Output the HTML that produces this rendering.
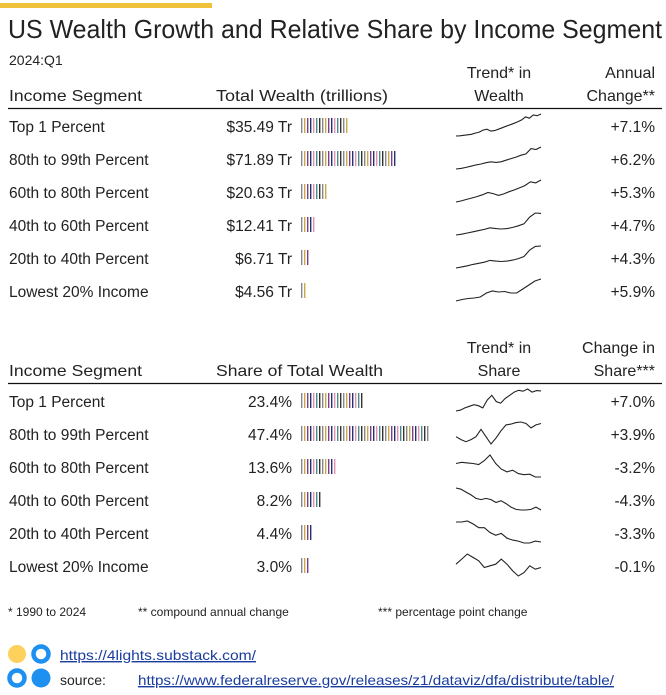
<!DOCTYPE html>
<html><head><meta charset="utf-8">
<style>
html,body{margin:0;padding:0;background:#fff;}
svg{display:block;font-family:"Liberation Sans",sans-serif;}
text{fill:#222;}
a text{fill:#1a3c9e;text-decoration:underline;}
</style></head>
<body>
<svg id="chart" width="666" height="695" viewBox="0 0 666 695">
<rect x="0" y="3" width="212" height="5" fill="#f0c23b"/>
<text x="8" y="38" font-size="26" textLength="654" lengthAdjust="spacingAndGlyphs">US Wealth Growth and Relative Share by Income Segment</text>
<text x="9" y="65" font-size="14">2024:Q1</text>

<g>
<text x="9" y="101" font-size="16" textLength="133" lengthAdjust="spacingAndGlyphs">Income Segment</text>
<text x="216" y="101" font-size="16" textLength="172" lengthAdjust="spacingAndGlyphs">Total Wealth (trillions)</text>
<text x="499" y="78" font-size="16" text-anchor="middle">Trend* in</text>
<text x="499" y="101" font-size="16" text-anchor="middle">Wealth</text>
<text x="655" y="78" font-size="16" text-anchor="end">Annual</text>
<text x="655" y="101" font-size="16" text-anchor="end">Change**</text>
<line x1="8" y1="108.5" x2="662" y2="108.5" stroke="#111" stroke-width="1.3"/>
</g>
<g id="t1"></g>

<g>
<text x="9" y="376" font-size="16" textLength="133" lengthAdjust="spacingAndGlyphs">Income Segment</text>
<text x="216" y="376" font-size="16" textLength="167" lengthAdjust="spacingAndGlyphs">Share of Total Wealth</text>
<text x="499" y="353" font-size="16" text-anchor="middle">Trend* in</text>
<text x="499" y="376" font-size="16" text-anchor="middle">Share</text>
<text x="655" y="353" font-size="16" text-anchor="end">Change in</text>
<text x="655" y="376" font-size="16" text-anchor="end">Share***</text>
<line x1="8" y1="383.5" x2="662" y2="383.5" stroke="#111" stroke-width="1.3"/>
</g>
<g id="t2"></g>

<g>
<text x="8" y="616" font-size="12">* 1990 to 2024</text>
<text x="138" y="616" font-size="12">** compound annual change</text>
<text x="378" y="616" font-size="12">*** percentage point change</text>
</g>
<g>
<circle cx="17" cy="654" r="9" fill="#fdd15c"/>
<circle cx="41" cy="654" r="7.5" fill="none" stroke="#1e90f0" stroke-width="4.5"/>
<circle cx="17" cy="678" r="7.5" fill="none" stroke="#1e90f0" stroke-width="4.5"/>
<circle cx="41" cy="678" r="9.5" fill="#1e90f0"/>
</g>
<a><text x="60" y="660" font-size="14" textLength="196" lengthAdjust="spacingAndGlyphs">https://4lights.substack.com/</text></a>
<text x="60" y="685" font-size="14">source:</text>
<a><text x="138" y="685" font-size="14" textLength="476" lengthAdjust="spacingAndGlyphs">https://www.federalreserve.gov/releases/z1/dataviz/dfa/distribute/table/</text></a>
</svg>
<script>
const segments = ["Top 1 Percent","80th to 99th Percent","60th to 80th Percent","40th to 60th Percent","20th to 40th Percent","Lowest 20% Income"];
const wealthValues = [35.49,71.89,20.63,12.41,6.71,4.56];
const annualChange = ["+7.1%","+6.2%","+5.3%","+4.7%","+4.3%","+5.9%"];
const shareValues = [23.4,47.4,13.6,8.2,4.4,3.0];
const shareChange = ["+7.0%","+3.9%","-3.2%","-4.3%","-3.3%","-0.1%"];
const wealthTrend0 = [1,1.1,1.3,1.5,1.7,2.2,2.6,3.4,3.8,3.0,3.2,3.8,4.4,5.0,5.6,6.2,6.8,7.6,8.8,8.3,9.6,9.3,10];
const wealthTrend1 = [1,1.2,1.5,1.9,2.3,2.6,3.0,3.3,3.1,3.3,3.8,4.3,4.8,5.4,5.8,7.5,7.2,8.0];
const wealthTrend2 = [1,1.3,1.7,2.1,2.5,3.0,3.6,3.3,2.8,3.2,3.8,4.3,4.9,5.5,6.5,6.2,7.0];
const wealthTrend3 = [1,1.2,1.5,1.8,2.1,2.4,2.8,2.6,2.5,2.6,2.9,3.3,3.8,5.5,6.5,6.4];
const wealthTrend4 = [1,1.3,1.6,2.0,2.3,2.6,3.1,2.9,2.8,2.9,3.2,3.6,4.2,6.0,7.0,7.1];
const wealthTrend5 = [1,1.3,1.5,1.6,1.8,2.6,3.0,2.8,2.9,2.6,2.6,3.4,4.2,5.0,5.4];
const shareTrend0 = [17,17.3,18,18.5,19,18.7,18,20.5,22,20,19.5,21,22,23,23.6,23.3,24,23,23.5,23.4];
const shareTrend1 = [46,45,44.3,45,46,48.5,46,43.5,45.5,48,50,50.3,50.8,51,50.5,49,50,50.5];
const shareTrend2 = [16,16.2,16.1,16,15.8,16.5,17.5,16,15,14.5,14.8,14.2,14,14.1,13.6,13.6];
const shareTrend3 = [12.5,12.3,11.8,11.3,10.7,10.5,10.7,10.5,10,10.3,9.8,9.2,8.8,8.7,8.7,8.8,9.2,8.7];
const shareTrend4 = [6.5,6.5,6.6,6.3,5.9,5.9,5.4,5.1,5.3,4.8,4.6,4.5,4.3,4.3,4.5,4.4];
const shareTrend5 = [3.3,3.6,3.9,3.7,3.5,3.1,3.2,3.3,3.6,3.3,2.9,2.6,2.8,3.2,3.0,3.1];
const wealthTrends=[wealthTrend0,wealthTrend1,wealthTrend2,wealthTrend3,wealthTrend4,wealthTrend5];
const shareTrends=[shareTrend0,shareTrend1,shareTrend2,shareTrend3,shareTrend4,shareTrend5];

const NS="http://www.w3.org/2000/svg";
const tickColors=["#888","#c9a84a","#7a3f8f","#22336b","#e58fb0","#4a8a8a","#333"];
function mk(tag,attrs,parent){const e=document.createElementNS(NS,tag);for(const k in attrs)e.setAttribute(k,attrs[k]);parent.appendChild(e);return e;}
function xBar(v,pxPerUnit){return v*pxPerUnit;}
function spark(vals,cy,parent,name){
  const mn=Math.min(...vals),mx=Math.max(...vals);
  const x0=456,x1=541,yTop=cy-12,yBot=cy+10;
  const xs=i=>x0+(x1-x0)*i/(vals.length-1);
  const ys=v=>yBot-(v-mn)/(mx-mn||1)*(yBot-yTop);
  const d=vals.map((v,i)=>(i?"L":"M")+xs(i).toFixed(1)+","+ys(v).toFixed(1)).join("");
  const p=mk("path",{d:d,fill:"none",stroke:"#222","stroke-width":"1.1"},parent);
  
  
}
function bar(v,ppu,cy,parent,name){
  const g=mk("g",{},parent);
  
  
  const w=xBar(v,ppu);const n=Math.max(1,Math.round(w/3));
  for(let i=0;i<n;i++){
    mk("rect",{x:301+i*3,y:cy-8,width:1.4,height:15,fill:tickColors[i%tickColors.length]},g);
  }
}
function table(id,vals,labels,changes,trends,ppu,y0,kind){
  const host=document.getElementById(id);
  segments.forEach((s,i)=>{
    const cy=y0+i*33;
    const row=mk("g",{},host);
    
    
    const t1=mk("text",{x:9,y:cy+6,"font-size":15.5},row);t1.textContent=s;
    
    
    const t2=mk("text",{x:292,y:cy+6,"font-size":15.5,"text-anchor":"end"},row);t2.textContent=labels[i];
    
    
    bar(vals[i],ppu,cy,row,kind+'-bar');
    spark(trends[i],cy,row,kind+'-sparkline');
    const t3=mk("text",{x:655,y:cy+6,"font-size":15.5,"text-anchor":"end"},row);t3.textContent=changes[i];
    
    
  });
}
table("t1",wealthValues,wealthValues.map(v=>"$"+v.toFixed(2)+" Tr"),annualChange,wealthTrends,1.32,126,"wealth");
table("t2",shareValues,shareValues.map(v=>v.toFixed(1)+"%"),shareChange,shareTrends,2.72,401,"share");
</script>
</body></html>
